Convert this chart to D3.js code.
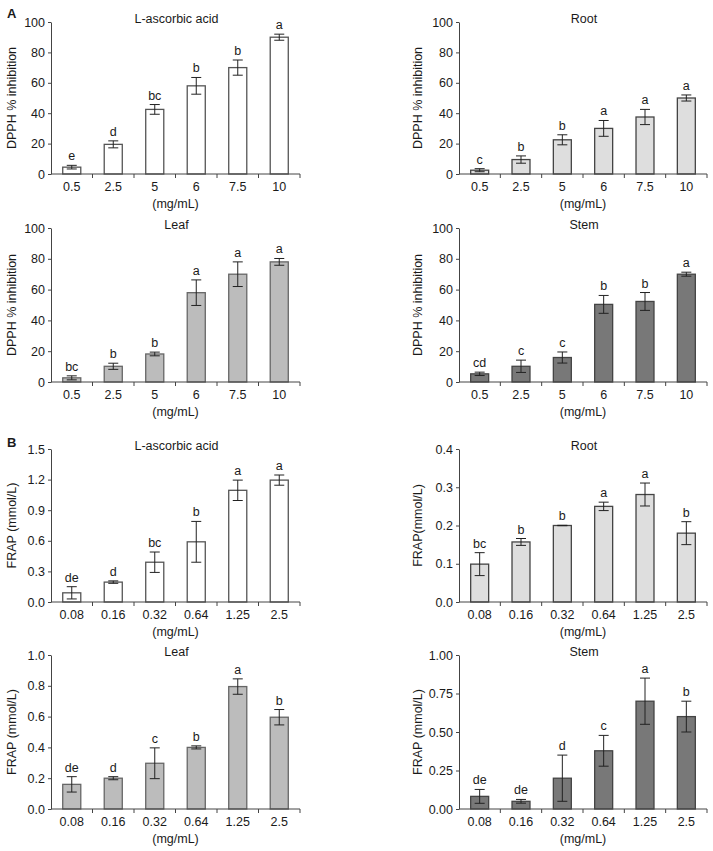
<!DOCTYPE html>
<html><head><meta charset="utf-8">
<script src="https://cdn.jsdelivr.net/npm/d3@7"></script>
<style>
html,body{margin:0;padding:0;background:#fff;}
svg text{font-family:"Liberation Sans",Arial,sans-serif;fill:#1a1a1a;}
</style></head>
<body>
<svg id="chart" width="713" height="851"></svg>
<script>
// ---- Data ----
const dpphConc = ["0.5","2.5","5","6","7.5","10"];
const frapConc = ["0.08","0.16","0.32","0.64","1.25","2.5"];

const dpphAscorbic = [4.5, 19.5, 42.5, 58, 70, 90];
const dpphAscorbicErr = [1.2, 2.3, 3.2, 5.5, 5, 2];
const dpphAscorbicLetters = ["e","d","bc","b","b","a"];

const dpphRoot = [2.5, 9.5, 22.5, 30, 37.5, 50];
const dpphRootErr = [1, 2.4, 3.3, 5.2, 5, 2];
const dpphRootLetters = ["c","b","b","a","a","a"];

const dpphLeaf = [2.7, 10.2, 18.2, 58, 70, 78];
const dpphLeafErr = [1.3, 2, 1.2, 8.3, 8, 2.2];
const dpphLeafLetters = ["bc","b","b","a","a","a"];

const dpphStem = [5.3, 10.2, 15.9, 50.4, 52.3, 70];
const dpphStemErr = [1.1, 4, 3.6, 5.8, 5.8, 1.3];
const dpphStemLetters = ["cd","c","c","b","b","a"];

const frapAscorbic = [0.09, 0.195, 0.39, 0.59, 1.095, 1.195];
const frapAscorbicErr = [0.06, 0.012, 0.1, 0.2, 0.1, 0.05];
const frapAscorbicLetters = ["de","d","bc","b","a","a"];

const frapRoot = [0.099, 0.157, 0.2, 0.25, 0.281, 0.18];
const frapRootErr = [0.03, 0.009, 0.0005, 0.011, 0.03, 0.03];
const frapRootLetters = ["bc","b","b","a","a","b"];

const frapLeaf = [0.16, 0.2, 0.297, 0.4, 0.795, 0.596];
const frapLeafErr = [0.05, 0.01, 0.1, 0.01, 0.05, 0.05];
const frapLeafLetters = ["de","d","c","b","a","b"];

const frapStem = [0.082, 0.05, 0.2, 0.378, 0.7, 0.6];
const frapStemErr = [0.045, 0.012, 0.15, 0.1, 0.15, 0.1];
const frapStemLetters = ["de","de","d","c","a","b"];

const dpphTicks = [0, 20, 40, 60, 80, 100];
const frapAscorbicTicks = [0, 0.3, 0.6, 0.9, 1.2, 1.5];
const frapRootTicks = [0, 0.1, 0.2, 0.3, 0.4];
const frapLeafTicks = [0, 0.2, 0.4, 0.6, 0.8, 1.0];
const frapStemTicks = [0, 0.25, 0.5, 0.75, 1.0];

// ---- Layout / styles ----
const FS = 12.5;
const cols = [{x0: 51, x1: 300, lab: 16}, {x0: 459, x1: 707, lab: 422}];
const rows = [{y0: 22, y1: 174}, {y0: 228, y1: 382}, {y0: 449, y1: 602}, {y0: 655, y1: 809}];
const styles = {
  ascorbic: {fill: "#ffffff", stroke: "#555"},
  root: {fill: "#dedede", stroke: "#444"},
  leaf: {fill: "#bcbcbc", stroke: "#666"},
  stem: {fill: "#787878", stroke: "#444"}
};

const panels = [
  {r:0,c:0,title:"L-ascorbic acid",cats:dpphConc,vals:dpphAscorbic,err:dpphAscorbicErr,let:dpphAscorbicLetters,ticks:dpphTicks,fmt:d3.format("d"),ylab:"DPPH % inhibition",st:"ascorbic"},
  {r:0,c:1,title:"Root",cats:dpphConc,vals:dpphRoot,err:dpphRootErr,let:dpphRootLetters,ticks:dpphTicks,fmt:d3.format("d"),ylab:"DPPH % inhibition",st:"root"},
  {r:1,c:0,title:"Leaf",cats:dpphConc,vals:dpphLeaf,err:dpphLeafErr,let:dpphLeafLetters,ticks:dpphTicks,fmt:d3.format("d"),ylab:"DPPH % inhibition",st:"leaf"},
  {r:1,c:1,title:"Stem",cats:dpphConc,vals:dpphStem,err:dpphStemErr,let:dpphStemLetters,ticks:dpphTicks,fmt:d3.format("d"),ylab:"DPPH % inhibition",st:"stem"},
  {r:2,c:0,title:"L-ascorbic acid",cats:frapConc,vals:frapAscorbic,err:frapAscorbicErr,let:frapAscorbicLetters,ticks:frapAscorbicTicks,fmt:d3.format(".1f"),ylab:"FRAP (mmol/L)",st:"ascorbic"},
  {r:2,c:1,title:"Root",cats:frapConc,vals:frapRoot,err:frapRootErr,let:frapRootLetters,ticks:frapRootTicks,fmt:d3.format(".1f"),ylab:"FRAP(mmol/L)",st:"root"},
  {r:3,c:0,title:"Leaf",cats:frapConc,vals:frapLeaf,err:frapLeafErr,let:frapLeafLetters,ticks:frapLeafTicks,fmt:d3.format(".1f"),ylab:"FRAP (mmol/L)",st:"leaf"},
  {r:3,c:1,title:"Stem",cats:frapConc,vals:frapStem,err:frapStemErr,let:frapStemLetters,ticks:frapStemTicks,fmt:d3.format(".2f"),ylab:"FRAP (mmol/L)",st:"stem"}
];

const svg = d3.select("#chart");
const axisColor = "#444";

panels.forEach(p => {
  const col = cols[p.c], row = rows[p.r];
  const x = d3.scaleBand().domain(p.cats).range([col.x0, col.x1]).padding(0);
  const y = d3.scaleLinear().domain([p.ticks[0], p.ticks[p.ticks.length-1]]).range([row.y1, row.y0]);
  const g = svg.append("g");
  const bw = x.bandwidth() * 0.435;
  const st = styles[p.st];
  const data = p.cats.map((c,i) => ({c, v:p.vals[i], e:p.err[i], l:p.let[i]}));

  // bars
  g.selectAll("rect.bar").data(data).join("rect")
    .attr("x", d => x(d.c) + (x.bandwidth()-bw)/2)
    .attr("y", d => y(d.v))
    .attr("width", bw)
    .attr("height", d => y(0) - y(d.v))
    .attr("fill", st.fill).attr("stroke", st.stroke).attr("stroke-width", 1.3);

  // error bars
  const cx = d => x(d.c) + x.bandwidth()/2;
  const eg = g.selectAll("g.err").data(data).join("g").attr("stroke", "#222").attr("stroke-width", 1);
  eg.append("line").attr("x1", cx).attr("x2", cx).attr("y1", d => y(d.v - d.e)).attr("y2", d => y(d.v + d.e));
  eg.append("line").attr("x1", d => cx(d)-5).attr("x2", d => cx(d)+5).attr("y1", d => y(d.v + d.e)).attr("y2", d => y(d.v + d.e));
  eg.append("line").attr("x1", d => cx(d)-5).attr("x2", d => cx(d)+5).attr("y1", d => y(d.v - d.e)).attr("y2", d => y(d.v - d.e));

  // letters
  g.selectAll("text.let").data(data).join("text")
    .attr("x", cx).attr("y", d => y(d.v + d.e) - 5)
    .attr("text-anchor", "middle").attr("font-size", FS).text(d => d.l);

  // y axis
  const ya = g.append("g").attr("transform", `translate(${col.x0},0)`)
    .call(d3.axisLeft(y).tickValues(p.ticks).tickFormat(p.fmt).tickSize(3).tickSizeOuter(0).tickPadding(3));
  ya.selectAll("text").attr("font-size", FS).attr("fill", "#1a1a1a").style("font-family", '"Liberation Sans",Arial,sans-serif');
  ya.selectAll("line").attr("stroke", axisColor);
  ya.select(".domain").attr("stroke", axisColor);

  // x axis
  const xa = g.append("g").attr("transform", `translate(0,${row.y1})`)
    .call(d3.axisBottom(x).tickSize(0).tickPadding(8));
  xa.select(".domain").attr("stroke", axisColor).attr("d", `M${col.x0},0H${col.x1}`);
  xa.selectAll("text").attr("font-size", FS).attr("fill", "#1a1a1a").style("font-family", '"Liberation Sans",Arial,sans-serif');
  // category boundary ticks
  const bounds = p.cats.slice(1).map(c => x(c)).concat([col.x1]);
  xa.selectAll("line.bt").data(bounds).join("line").attr("class","bt")
    .attr("x1", d => d).attr("x2", d => d).attr("y1", 0).attr("y2", 4).attr("stroke", axisColor);

  // x label
  g.append("text").attr("x", (col.x0+col.x1)/2).attr("y", row.y1 + 34)
    .attr("text-anchor", "middle").attr("font-size", FS).text("(mg/mL)");

  // title
  g.append("text").attr("x", (col.x0+col.x1)/2 + 1).attr("y", row.y0 + 1)
    .attr("text-anchor", "middle").attr("font-size", FS).text(p.title);

  // y label
  g.append("text").attr("transform", `translate(${col.lab},${(row.y0+row.y1)/2}) rotate(-90)`)
    .attr("text-anchor", "middle").attr("font-size", FS).text(p.ylab);
});

svg.append("text").attr("x", 7).attr("y", 18).attr("font-size", 13).attr("font-weight", "bold").text("A");
svg.append("text").attr("x", 7).attr("y", 447).attr("font-size", 13).attr("font-weight", "bold").text("B");
</script>
</body></html>
